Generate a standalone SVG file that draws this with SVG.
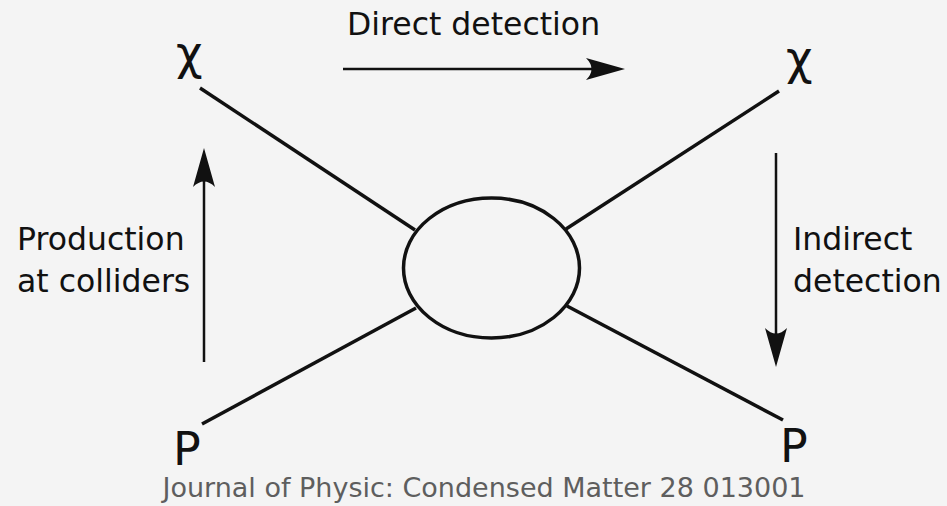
<svg xmlns="http://www.w3.org/2000/svg" width="947" height="506" viewBox="0 0 947 506">
<style>
.lbl{font-family:"DejaVu Sans",sans-serif;font-size:31.5px;fill:#111}
.sym{font-family:"DejaVu Sans",sans-serif;font-size:46px;fill:#111}
.leg{stroke:#111;stroke-width:3.5;fill:none;stroke-linecap:butt}
.arr{stroke:#111;stroke-width:2.5;fill:none}
.head{fill:#111;stroke:none}
</style>
<rect width="947" height="506" fill="#f4f4f4"/>
<g id="connectors">
<line class="leg" x1="200" y1="88" x2="415" y2="230"/>
<line class="leg" x1="779" y1="91" x2="566" y2="229"/>
<line class="leg" x1="202" y1="424" x2="416" y2="308"/>
<line class="leg" x1="783" y1="420" x2="567" y2="306"/>
<g id="arrow-direct">
<line class="arr" x1="343" y1="69" x2="610" y2="69"/>
<path class="head" d="M625,69 L586,58 Q597,69 586,80 Z"/>
</g>
<g id="arrow-production">
<line class="arr" x1="204" y1="362" x2="204" y2="162"/>
<path class="head" d="M204,148 L193,187 Q204,176 215,187 Z"/>
</g>
<g id="arrow-indirect">
<line class="arr" x1="776" y1="153" x2="776" y2="352"/>
<path class="head" d="M776,367 L765,328 Q776,339 787,328 Z"/>
</g>
</g>
<g id="blob">
<ellipse cx="491.5" cy="268" rx="88" ry="70" fill="none" stroke="#111" stroke-width="3.5"/>
</g>
<g id="chi-left"><text class="sym" x="176" y="69">χ</text></g>
<g id="chi-right"><text class="sym" x="786" y="74">χ</text></g>
<g id="p-left"><text class="sym" x="173" y="465">P</text></g>
<g id="p-right"><text class="sym" x="780" y="462">P</text></g>
<g id="label-direct"><text class="lbl" x="347" y="35" font-size="32">Direct detection</text></g>
<g id="label-production"><text class="lbl" x="17" y="250">Production</text><text class="lbl" x="17" y="292">at colliders</text></g>
<g id="label-indirect"><text class="lbl" x="793" y="250">Indirect</text><text class="lbl" x="793" y="292">detection</text></g>
<g id="caption"><text x="484" y="497" text-anchor="middle" font-family="DejaVu Sans, sans-serif" font-size="27" fill="#5e5e5e">Journal of Physic: Condensed Matter 28 013001</text></g>
</svg>
